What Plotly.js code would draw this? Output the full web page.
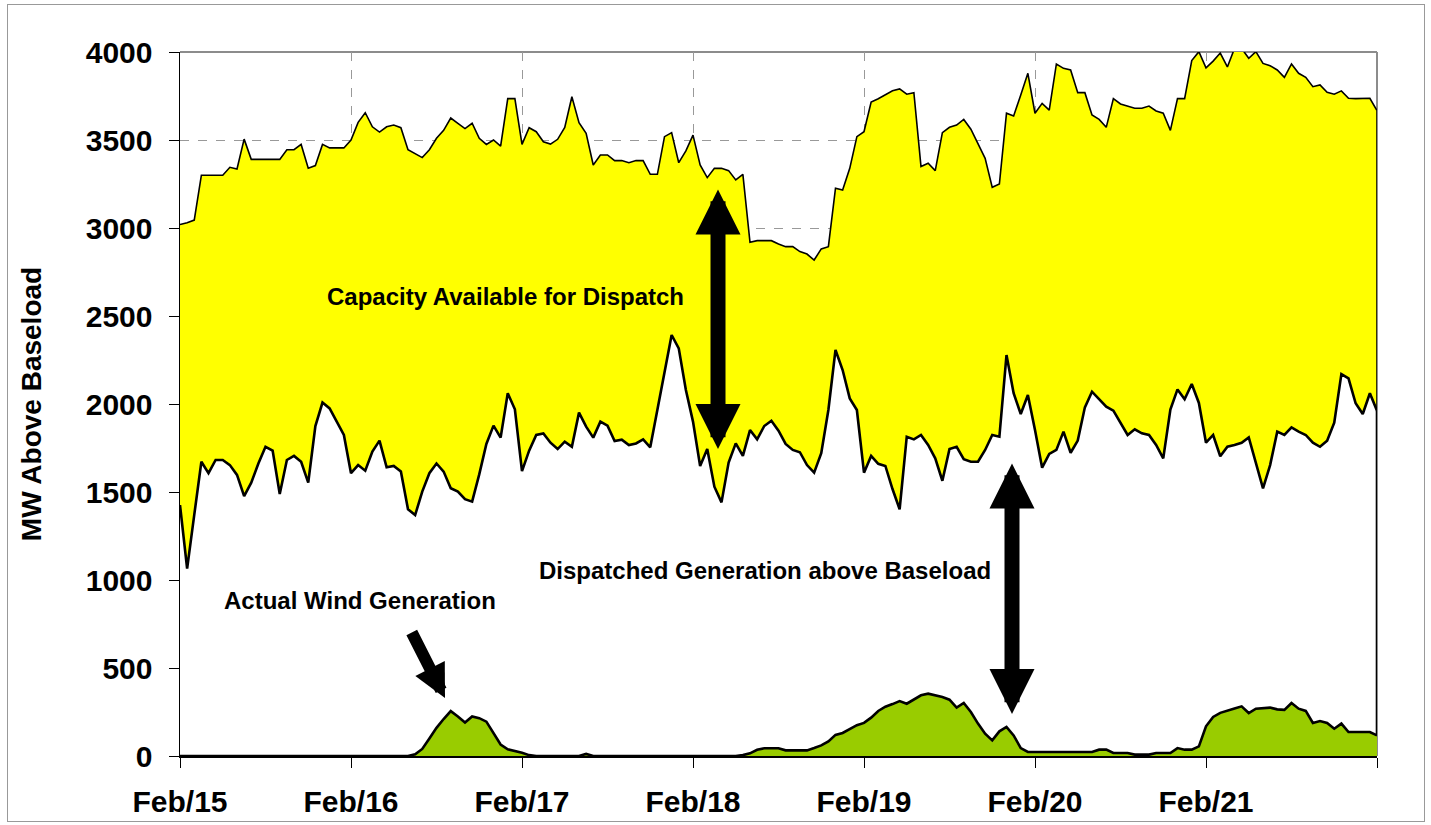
<!DOCTYPE html>
<html>
<head>
<meta charset="utf-8">
<script src="https://cdn.plot.ly/plotly-3.0.1.min.js"></script>
<style>
html,body{margin:0;padding:0;background:#fff;}
#wrap{position:relative;width:1431px;height:825px;}
#chart{position:absolute;left:0;top:0;width:1431px;height:825px;}
#frame{position:absolute;left:7px;top:4px;width:1416px;height:816px;border:1.5px solid #999;pointer-events:none;}
</style>
</head>
<body>
<div id="wrap"><div id="chart"></div><div id="frame"></div></div>
<script>
// Hourly values, Feb 15 00:00 to Feb 22 00:00 (169 points)
const tickLabels = ["Feb/15","Feb/16","Feb/17","Feb/18","Feb/19","Feb/20","Feb/21"];

const availableTop = [
3020,3030,3045,3300,3300,3300,3300,3345,3335,3505,3390,3390,3390,3390,3390,3445,3445,3475,3340,3355,3475,3455,3455,3455,
3500,3600,3655,3575,3545,3575,3585,3570,3445,3420,3400,3445,3510,3555,3625,3595,3565,3595,3510,3475,3500,3465,3735,3735,
3475,3570,3547,3490,3477,3504,3572,3746,3598,3538,3358,3415,3415,3383,3383,3371,3383,3383,3305,3305,3519,3542,3371,3438,
3528,3358,3286,3339,3339,3326,3273,3305,2919,2928,2928,2928,2909,2894,2894,2866,2852,2818,2881,2894,3226,3216,3339,3519,
3547,3716,3734,3756,3780,3790,3760,3769,3349,3368,3326,3542,3572,3585,3617,3561,3483,3396,3231,3250,3652,3636,3756,3879,
3652,3708,3670,3932,3907,3898,3769,3769,3642,3617,3572,3735,3705,3693,3680,3680,3693,3665,3652,3555,3735,3735,3951,4002,
3910,3948,3994,3915,4020,4020,3964,4002,3935,3922,3898,3856,3932,3879,3856,3803,3813,3771,3760,3779,3737,3735,3735,3737,
3667];

const dispatched = [
1426,1065,1370,1672,1607,1682,1682,1653,1597,1477,1553,1662,1757,1735,1489,1682,1705,1672,1553,1875,2008,1975,1900,1824,
1607,1653,1621,1730,1792,1640,1648,1616,1402,1369,1502,1607,1662,1616,1521,1502,1459,1445,1600,1773,1877,1809,2061,1970,
1619,1735,1824,1833,1780,1744,1786,1757,1951,1871,1809,1900,1877,1790,1797,1767,1776,1799,1754,1970,2165,2392,2316,2080,
1900,1648,1744,1530,1441,1667,1776,1705,1852,1799,1875,1905,1848,1773,1739,1726,1653,1610,1720,1966,2307,2193,2032,1966,
1610,1705,1660,1648,1517,1402,1814,1799,1824,1767,1691,1564,1744,1757,1686,1672,1672,1739,1824,1814,2278,2061,1943,2051,
1852,1638,1716,1739,1843,1723,1792,1981,2070,2027,1985,1962,1894,1824,1856,1833,1824,1767,1691,1968,2083,2027,2114,2006,
1780,1824,1703,1757,1767,1780,1810,1663,1521,1653,1843,1824,1867,1843,1824,1780,1757,1792,1894,2170,2146,2004,1943,2061,
1962];

const wind = [
0,0,0,0,0,0,0,0,0,0,0,0,0,0,0,0,0,0,0,0,0,0,0,0,
0,0,0,0,0,0,0,0,0,10,40,100,160,210,255,225,190,225,215,195,130,65,38,30,
18,5,0,0,0,0,0,0,0,12,0,0,0,0,0,0,0,0,0,0,0,0,0,0,
0,0,0,0,0,0,0,5,15,35,44,44,44,32,32,32,32,45,60,83,120,131,155,175,
188,218,256,280,295,312,297,320,345,354,345,335,320,275,301,250,184,127,89,140,165,117,45,23,
23,23,23,23,23,23,23,23,23,36,36,17,17,17,8,8,8,17,17,17,45,36,36,55,
169,222,245,259,270,282,244,269,272,275,265,262,301,269,256,188,199,188,155,184,136,136,136,136,
117];

const hours = dispatched.map((_, i) => i);
const last = hours.length - 1;

// pixel helpers for annotations (plot area 180..1377 x 52..756)
const L = 180, R = 1377, T = 52, B = 756;
const px = v => (v - L) / (R - L);
const py = v => (B - v) / (B - T);

const tickvals = tickLabels.map((_, i) => i * 24).concat([168]);
const ticktext = tickLabels.concat([""]);

const traces = [
  {x: hours, y: dispatched, type: 'scatter', mode: 'lines', fill: 'tozeroy',
   fillcolor: '#FFFFFF', line: {color: '#000', width: 2.6}, hoverinfo: 'skip', showlegend: false},
  {x: hours, y: availableTop, type: 'scatter', mode: 'lines', fill: 'tonexty',
   fillcolor: '#FFFF00', line: {color: '#000', width: 1.6}, hoverinfo: 'skip', showlegend: false},
  {x: hours, y: wind, type: 'scatter', mode: 'lines', fill: 'tozeroy',
   fillcolor: '#99CC00', line: {color: '#000', width: 2.6}, hoverinfo: 'skip', showlegend: false}
];

const annFont = {family: 'Liberation Sans, Arial', size: 24, color: '#000', weight: 'bold'};

const layout = {
  width: 1431, height: 825,
  margin: {l: 180, r: 54, t: 52, b: 69},
  paper_bgcolor: '#fff', plot_bgcolor: '#fff',
  showlegend: false,
  font: {family: 'Liberation Sans, Arial', color: '#000'},
  xaxis: {
    range: [0, 168], tickvals: tickvals, ticktext: ticktext,
    showgrid: true, gridcolor: '#999', griddash: 'dash', gridwidth: 1,
    showline: true, linecolor: '#000', linewidth: 1.5,
    ticks: 'outside', ticklen: 10, tickcolor: '#000', tickwidth: 1,
    ticklabelstandoff: 8,
    tickfont: {family: 'Liberation Sans, Arial', size: 30, weight: 'bold', color: '#000'},
    zeroline: false, automargin: false, fixedrange: true
  },
  yaxis: {
    range: [0, 4000], dtick: 500, tick0: 0,
    showgrid: true, gridcolor: '#999', griddash: 'dash', gridwidth: 1,
    showline: true, linecolor: '#000', linewidth: 1.5,
    ticks: 'outside', ticklen: 10, tickcolor: '#000', tickwidth: 1,
    ticklabelstandoff: 10,
    tickfont: {family: 'Liberation Sans, Arial', size: 30, weight: 'bold', color: '#000'},
    title: {text: 'MW Above Baseload', standoff: 36,
            font: {family: 'Liberation Sans, Arial', size: 28, weight: 'bold', color: '#000'}},
    zeroline: false, automargin: false, fixedrange: true
  },
  shapes: [
    {type: 'line', xref: 'paper', yref: 'paper', x0: 0, x1: 1, y0: 1, y1: 1,
     line: {color: '#8c8c8c', width: 2}, layer: 'below'},
    {type: 'line', xref: 'paper', yref: 'paper', x0: 1, x1: 1, y0: 0, y1: 1,
     line: {color: '#8c8c8c', width: 2}, layer: 'below'},
    {type: 'line', xref: 'x', yref: 'y', x0: hours[last], x1: hours[last],
     y0: wind[last], y1: dispatched[last], line: {color: '#000', width: 2.6}, layer: 'above'},
    {type: 'line', xref: 'x', yref: 'y', x0: hours[last], x1: hours[last],
     y0: dispatched[last], y1: availableTop[last], line: {color: '#000', width: 1.6}, layer: 'above'}
  ],
  annotations: [
    {text: 'Capacity Available for Dispatch', xref: 'paper', yref: 'paper', x: px(505), y: py(296),
     xanchor: 'center', yanchor: 'middle', showarrow: false, font: annFont},
    {text: 'Dispatched Generation above Baseload', xref: 'paper', yref: 'paper', x: px(765), y: py(570),
     xanchor: 'center', yanchor: 'middle', showarrow: false, font: annFont},
    {text: 'Actual Wind Generation', xref: 'paper', yref: 'paper', x: px(360), y: py(600),
     xanchor: 'center', yanchor: 'middle', showarrow: false, font: annFont},
    {text: '', xref: 'paper', yref: 'paper', x: px(718), y: py(449), ax: 0, ay: -261,
     showarrow: true, arrowhead: 2, startarrowhead: 2, arrowside: 'end+start',
     arrowsize: 0.6, startarrowsize: 0.6, arrowwidth: 15, arrowcolor: '#000', standoff: 0, startstandoff: 0},
    {text: '', xref: 'paper', yref: 'paper', x: px(1012), y: py(714), ax: 0, ay: -252,
     showarrow: true, arrowhead: 2, startarrowhead: 2, arrowside: 'end+start',
     arrowsize: 0.6, startarrowsize: 0.6, arrowwidth: 15, arrowcolor: '#000', standoff: 0, startstandoff: 0},
    {text: '', xref: 'paper', yref: 'paper', x: px(445), y: py(698), ax: -34, ay: -67,
     showarrow: true, arrowhead: 2, arrowsize: 0.55, arrowwidth: 12, arrowcolor: '#000', standoff: 0}
  ]
};

Plotly.newPlot('chart', traces, layout, {displayModeBar: false, staticPlot: true});
</script>
</body>
</html>
